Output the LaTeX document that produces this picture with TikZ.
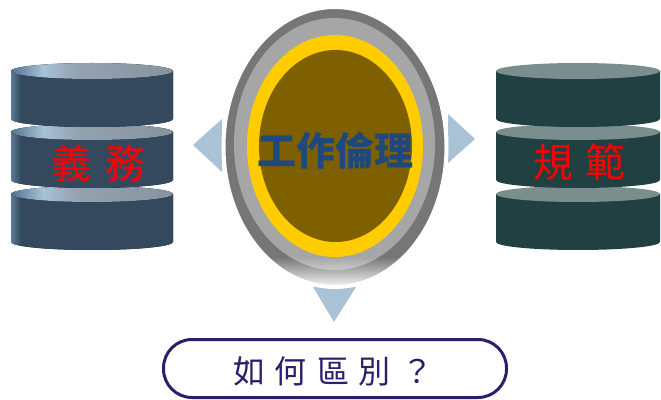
\documentclass[tikz,border=0pt]{standalone}
\usepackage{fontspec}
\newfontfamily\cjk{Noto Sans CJK TC}
\usetikzlibrary{fadings}
\definecolor{lbody}{RGB}{52,73,94}
\definecolor{rbody}{RGB}{33,64,66}
\definecolor{rtop}{RGB}{122,142,142}
\definecolor{ringdark}{RGB}{118,118,118}
\definecolor{ringlight}{RGB}{166,166,166}
\definecolor{ringyellow}{RGB}{255,204,0}
\definecolor{olive}{RGB}{127,96,0}
\definecolor{ethic}{RGB}{31,73,125}
\definecolor{tri}{RGB}{170,194,214}
\definecolor{navy}{RGB}{42,31,107}
\pgfdeclarehorizontalshading{ltop}{100bp}{rgb(0bp)=(0.33,0.45,0.57); rgb(25bp)=(0.33,0.45,0.57); rgb(35bp)=(0.66,0.76,0.84); rgb(45bp)=(0.58,0.64,0.69); rgb(75bp)=(0.52,0.58,0.62); rgb(100bp)=(0.52,0.58,0.62)}
\pgfdeclarehorizontalshading{lbodyshade}{100bp}{rgb(0bp)=(0.36,0.48,0.60); rgb(25bp)=(0.36,0.48,0.60); rgb(28bp)=(0.204,0.286,0.369); rgb(75bp)=(0.204,0.286,0.369); rgb(100bp)=(0.204,0.286,0.369)}
\tikzfading[name=fadedown, top color=transparent!100, bottom color=transparent!0]
\tikzset{
  tri/.style={fill=tri},
  redtext/.style={text=red, font=\cjk\fontsize{40}{40}\selectfont, inner sep=0pt},
}
\begin{document}
\begin{tikzpicture}[x=1pt,y=1pt]
\useasboundingbox (0,0) rectangle (661,399);
% left cylinder
\foreach \yc in {205,267,328} {
  \fill[shading=lbodyshade] (11,\yc) -- (11,\yc-48) arc[start angle=180, end angle=360, x radius=81, y radius=8] -- (173,\yc) -- cycle;
  \fill[shading=ltop] (92,\yc) ellipse[x radius=81, y radius=8];
}
% right cylinder
\foreach \yc in {205,267,328} {
  \fill[rbody] (496,\yc) -- (496,\yc-48) arc[start angle=180, end angle=360, x radius=82, y radius=8] -- (660,\yc) -- cycle;
  \fill[rtop] (578,\yc) ellipse[x radius=82, y radius=8];
}
\node[redtext] (duty) at (98,236) {義\hspace{14pt}務};
\node[redtext] (norm) at (579,237) {規\hspace{12pt}範};
% triangles
\fill[tri] (193,254) -- (222,280) -- (222,227) -- cycle;
\fill[tri] (475,260) -- (448,285) -- (448,236) -- cycle;
\fill[tri] (334,77) -- (313,112) -- (356,112) -- cycle;
% central rings
\filldraw[fill=ringdark, draw=white, line width=4pt] (335,252) ellipse[x radius=111.5, y radius=140];
\fill[ringlight] (334.5,255) ellipse[x radius=100.5, y radius=126];
\begin{scope}
  \clip (335,252) ellipse[x radius=111.5, y radius=140];
  \fill[white, path fading=fadedown] (200,142) rectangle (470,110);
  \fill[white] (200,110) rectangle (470,100);
\end{scope}
\fill[ringyellow] (335,253) ellipse[x radius=88, y radius=111];
\fill[olive] (335.5,253) ellipse[x radius=76.5, y radius=96];
\node[text=ethic, font=\cjk\bfseries\fontsize{39}{39}\selectfont, inner sep=0pt] (ethics) at (335,249) {工作倫理};
% bottom box
\draw[navy, line width=3pt, rounded corners=28.5pt] (163.5,1.5) rectangle (506.5,59.5);
\node[text=navy, font=\cjk\fontsize{32}{32}\selectfont, inner sep=0pt] (question) at (333,28) {如\hspace{10pt}何\hspace{10pt}區\hspace{10pt}別\hspace{10pt}？};
\end{tikzpicture}
\end{document}
